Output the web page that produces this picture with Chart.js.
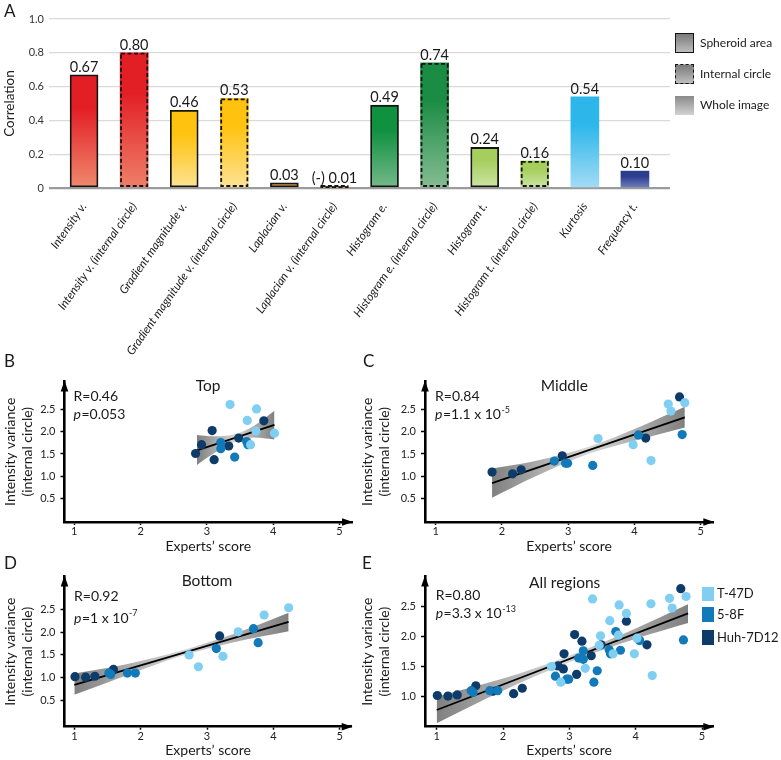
<!DOCTYPE html>
<html>
<head>
<meta charset="utf-8">
<script src="https://cdn.jsdelivr.net/npm/chart.js@4.4.0/dist/chart.umd.min.js"></script>
<style>
body { margin:0; background:#fff; width:781px; height:760px; position:relative; overflow:hidden; font-family:Lato, sans-serif; color:#1a1a1a; }
canvas { position:absolute; }
.letter { position:absolute; font-size:17px; line-height:17px; }
.leg { position:absolute; white-space:nowrap; line-height:1; }
.box { position:absolute; box-sizing:border-box; }
</style>
</head>
<body>
<canvas id="cA" width="781" height="368" style="left:0;top:0"></canvas>
<canvas id="cB" width="360" height="190" style="left:0;top:370px"></canvas>
<canvas id="cC" width="424" height="190" style="left:357px;top:370px"></canvas>
<canvas id="cD" width="360" height="195" style="left:0;top:565px"></canvas>
<canvas id="cE" width="424" height="195" style="left:357px;top:565px"></canvas>

<div class="letter" style="left:4px;top:2px">A</div>
<div class="letter" style="left:4px;top:352px">B</div>
<div class="letter" style="left:363px;top:352px">C</div>
<div class="letter" style="left:4px;top:554px">D</div>
<div class="letter" style="left:362px;top:554px">E</div>

<!-- legend of panel A -->
<div class="box" style="left:675px;top:33px;width:19px;height:20px;border:1.8px solid #141414;background:linear-gradient(#7a7a7a,#bdbdbd)"></div>
<div class="leg" style="left:700px;top:37px;font-size:12px">Spheroid area</div>
<div class="box" style="left:675px;top:64px;width:19px;height:20px;border:1.8px dashed #141414;background:linear-gradient(#7a7a7a,#bdbdbd)"></div>
<div class="leg" style="left:700px;top:68px;font-size:12px">Internal circle</div>
<div class="box" style="left:675px;top:96px;width:19px;height:19px;background:linear-gradient(#8a8a8a,#d2d2d2)"></div>
<div class="leg" style="left:700px;top:99px;font-size:12px">Whole image</div>

<!-- legend of panel E -->
<div class="box" style="left:702px;top:587px;width:12px;height:14px;background:#80cff2"></div>
<div class="leg" style="left:717px;top:587px;font-size:13px">T-47D</div>
<div class="box" style="left:702px;top:607px;width:12px;height:15px;background:#127ab9"></div>
<div class="leg" style="left:717px;top:608px;font-size:13px">5-8F</div>
<div class="box" style="left:702px;top:630px;width:12px;height:15px;background:#0d3c6b"></div>
<div class="leg" style="left:717px;top:631px;font-size:13px">Huh-7D12</div>

<script>
Chart.defaults.font.family = "Lato";
Chart.defaults.color = "#1a1a1a";

// ---- panel A data ----
const corrLabels = ["Intensity v.", "Intensity v. (internal circle)", "Gradient magnitude v.",
  "Gradient magnitude v. (internal circle)", "Laplacian v.", "Laplacian v. (internal circle)",
  "Histogram e.", "Histogram e. (internal circle)", "Histogram t.", "Histogram t. (internal circle)",
  "Kurtosis", "Frequency t."];
const corrValues = [0.67, 0.80, 0.46, 0.53, 0.03, 0.01, 0.49, 0.74, 0.24, 0.16, 0.54, 0.10];
const corrText   = ["0.67", "0.80", "0.46", "0.53", "0.03", "(-) 0.01", "0.49", "0.74", "0.24", "0.16", "0.54", "0.10"];
const corrRegion = ["spheroid", "internal", "spheroid", "internal", "spheroid", "internal",
  "spheroid", "internal", "spheroid", "internal", "whole", "whole"];
const corrTicks  = [0, 0.2, 0.4, 0.6, 0.8, 1.0];
const barTop    = ["#e31f26", "#e31f26", "#ffc20e", "#ffc20e", "#f39a2e", "#f39a2e",
  "#0f9140", "#1b8c44", "#a5ce5c", "#a5ce5c", "#2cb6ea", "#2b3d8c"];
const barBottom = ["#f08a6e", "#ee8069", "#fde395", "#fde395", "#f5b25c", "#f5b25c",
  "#76b98a", "#86bd94", "#cde5a6", "#cde5a6", "#a3dcf6", "#7080bf"];

// ---- panels B-E data (experts' score vs intensity variance) ----
const xTicks = [1, 2, 3, 4, 5];
const yTicks = [0.5, 1.0, 1.5, 2.0, 2.5];
const yTicksAll = [1.0, 1.5, 2.0, 2.5];

const topT47dX = [3.35, 3.61, 3.75, 3.74, 3.66, 4.02];
const topT47dY = [2.62, 2.26, 2.52, 2.02, 1.71, 1.97];
const top58fX  = [3.21, 3.21, 3.42, 3.60, 3.62];
const top58fY  = [1.76, 1.62, 1.43, 1.78, 1.71];
const topHuhX  = [2.83, 2.92, 3.08, 3.11, 3.33, 3.48, 3.86];
const topHuhY  = [1.51, 1.71, 2.03, 1.37, 1.68, 1.86, 2.25];
const topFitX  = [2.85, 4.02];
const topFitY  = [1.58, 2.16];
const topBandX  = [2.85, 3.1, 3.4, 3.7, 4.02];
const topBandHi = [1.93, 1.90, 1.94, 2.13, 2.48];
const topBandLo = [1.25, 1.51, 1.76, 1.87, 1.83];

const midT47dX = [3.45, 3.98, 4.25, 4.51, 4.55, 4.76];
const midT47dY = [1.85, 1.71, 1.35, 2.63, 2.47, 2.66];
const mid58fX  = [2.79, 2.96, 2.99, 3.37, 4.06, 4.72];
const mid58fY  = [1.34, 1.29, 1.29, 1.24, 1.93, 1.94];
const midHuhX  = [1.85, 2.16, 2.29, 2.91, 4.17, 4.68];
const midHuhY  = [1.09, 1.05, 1.14, 1.46, 1.86, 2.79];
const midFitX  = [1.85, 4.76];
const midFitY  = [0.84, 2.33];
const midBandX  = [1.85, 2.5, 3.3, 4.1, 4.76];
const midBandHi = [1.17, 1.34, 1.66, 2.13, 2.57];
const midBandLo = [0.51, 0.99, 1.50, 1.84, 2.10];

const botT47dX = [2.73, 2.87, 3.24, 3.47, 3.86, 4.23];
const botT47dY = [1.50, 1.24, 1.47, 2.01, 2.38, 2.54];
const bot58fX  = [1.52, 1.55, 1.80, 1.92, 3.14, 3.70, 3.77];
const bot58fY  = [1.10, 1.07, 1.10, 1.10, 1.64, 2.08, 1.77];
const botHuhX  = [1.01, 1.17, 1.31, 1.59, 3.19];
const botHuhY  = [1.02, 1.01, 1.03, 1.18, 1.92];
const botFitX  = [1.0, 4.23];
const botFitY  = [0.84, 2.23];
const botBandX  = [1.0, 1.8, 2.6, 3.4, 4.23];
const botBandHi = [1.09, 1.30, 1.59, 1.96, 2.43];
const botBandLo = [0.62, 1.06, 1.47, 1.78, 2.02];

const allFitX  = [1.0, 4.79];
const allFitY  = [0.78, 2.38];
const allBandX  = [1.0, 2.0, 3.0, 4.0, 4.79];
const allBandHi = [1.00, 1.30, 1.68, 2.13, 2.53];
const allBandLo = [0.56, 1.10, 1.57, 1.96, 2.22];

const colT47d = "#80cff2", col58f = "#127ab9", colHuh = "#0d3c6b";

// ---------- panel A ----------
function barFill(c) {
  const chart = c.chart;
  const i = c.dataIndex;
  if (!chart.chartArea || i === undefined) return "#999";
  const ys = chart.scales.y;
  const y0 = ys.getPixelForValue(corrValues[i]);
  const y1 = ys.getPixelForValue(0);
  const g = chart.ctx.createLinearGradient(0, y0, 0, y1 + 0.01);
  g.addColorStop(0, barTop[i]);
  g.addColorStop(0.3, barTop[i]);
  g.addColorStop(1, barBottom[i]);
  return g;
}

const barExtras = {
  id: "barExtras",
  afterDatasetsDraw(chart) {
    const ctx = chart.ctx;
    chart.getDatasetMeta(0).data.forEach((bar, i) => {
      const p = bar.getProps(["x", "y", "base", "width"], true);
      ctx.save();
      if (corrRegion[i] === "internal") {
        ctx.setLineDash([4, 2.5]);
        ctx.lineWidth = 1.8;
        ctx.strokeStyle = "#141414";
        ctx.strokeRect(p.x - p.width / 2 + 0.9, p.y + 0.9, p.width - 1.8, p.base - p.y - 1.8);
      }
      ctx.setLineDash([]);
      ctx.fillStyle = "#1a1a1a";
      ctx.font = "14.5px Lato";
      ctx.textAlign = "center";
      ctx.textBaseline = "alphabetic";
      ctx.fillText(corrText[i], p.x, p.y - 3);
      ctx.restore();
    });
  }
};

new Chart(document.getElementById("cA"), {
  type: "bar",
  data: {
    datasets: [{
      data: corrValues.map((v, i) => ({ x: i, y: v })),
      backgroundColor: barFill,
      borderColor: "#141414",
      borderWidth: corrRegion.map(r => r === "spheroid" ? 1.8 : 0),
      borderSkipped: false,
      barThickness: 28
    }]
  },
  options: {
    responsive: false,
    animation: false,
    layout: { padding: { top: 19, right: 111, left: 0, bottom: 0 } },
    plugins: { legend: { display: false }, tooltip: { enabled: false } },
    scales: {
      x: {
        type: "linear", min: -0.7, max: 11.7, offset: false,
        grid: { display: false }, border: { display: false },
        afterBuildTicks: s => { s.ticks = corrLabels.map((l, i) => ({ value: i })); },
        ticks: {
          autoSkip: false, minRotation: 55, maxRotation: 55, padding: 4, color: "#222",
          font: { size: 11.8, style: "italic" },
          callback: v => corrLabels[v]
        },
        afterFit: s => { s.height = 368 - 188; }
      },
      y: {
        min: 0, max: 1,
        afterBuildTicks: s => { s.ticks = corrTicks.map(v => ({ value: v })); },
        grid: {
          drawTicks: false,
          color: c => c.tick.value === 0 ? "#9b9b9b" : "#dadada",
          lineWidth: c => c.tick.value === 0 ? 2.2 : 1.2
        },
        border: { display: false },
        ticks: { padding: 5, color: "#333", font: { size: 11 }, callback: v => v === 0 ? "0" : v.toFixed(1) },
        title: { display: true, text: "Correlation", font: { size: 13.5 }, color: "#222", padding: { top: 2, bottom: 0 } },
        afterFit: s => { s.width = 49; }
      }
    }
  },
  plugins: [barExtras]
});

// ---------- panels B-E ----------
const pts = (xs, ys) => xs.map((x, i) => ({ x: x, y: ys[i] }));

const panelExtras = {
  id: "panelExtras",
  afterDraw(chart, args, o) {
    const ctx = chart.ctx, a = chart.chartArea;
    ctx.save();
    ctx.fillStyle = "#000";
    ctx.beginPath();
    ctx.moveTo(a.left, a.top - 1);
    ctx.lineTo(a.left - 3.8, a.top + 10);
    ctx.lineTo(a.left + 3.8, a.top + 10);
    ctx.closePath(); ctx.fill();
    ctx.beginPath();
    ctx.moveTo(a.right + 1, a.bottom);
    ctx.lineTo(a.right - 10, a.bottom - 3.8);
    ctx.lineTo(a.right - 10, a.bottom + 3.8);
    ctx.closePath(); ctx.fill();

    ctx.fillStyle = "#1a1a1a";
    ctx.textBaseline = "middle";
    ctx.textAlign = "center";
    ctx.font = "15.5px Lato";
    ctx.fillText(o.title, chart.scales.x.getPixelForValue(o.titleX), a.top + o.titleDy);

    ctx.textAlign = "left";
    const lx = a.left + o.noteDx;
    ctx.font = "14px Lato";
    ctx.fillText(o.r, lx, a.top + o.rDy);
    ctx.font = "italic 14px Lato";
    ctx.fillText("p", lx, a.top + o.pDy);
    let px = lx + ctx.measureText("p").width + 0.5;
    ctx.font = "14px Lato";
    ctx.fillText(o.p, px, a.top + o.pDy);
    if (o.exp) {
      px += ctx.measureText(o.p).width + 0.5;
      ctx.font = "9px Lato";
      ctx.fillText(o.exp, px, a.top + o.pDy - 5);
    }
    ctx.restore();
  }
};

function bandFill(bandX) {
  return c => {
    const chart = c.chart;
    if (!chart.chartArea) return "#bbb";
    const xs = chart.scales.x;
    const g = chart.ctx.createLinearGradient(xs.getPixelForValue(bandX[0]), 0,
      xs.getPixelForValue(bandX[bandX.length - 1]), 0);
    g.addColorStop(0, "#808080");
    g.addColorStop(0.5, "#d8d8d8");
    g.addColorStop(1, "#808080");
    return g;
  };
}

function scatterPanel(id, p) {
  const dot = (data, color) => ({
    data: data, showLine: false, pointRadius: 4.6, pointHoverRadius: 4.6,
    pointBackgroundColor: color, pointBorderWidth: 0, order: 0
  });
  new Chart(document.getElementById(id), {
    type: "line",
    data: {
      datasets: [
        dot(p.t47d, colT47d),
        dot(p.f58, col58f),
        dot(p.huh, colHuh),
        { data: pts(p.fitX, p.fitY), borderColor: "#000", borderWidth: 1.8, pointRadius: 0, order: 1 },
        { data: pts(p.bandX, p.bandHi), borderColor: "rgba(0,0,0,0)", borderWidth: 0, pointRadius: 0,
          fill: "+1", backgroundColor: bandFill(p.bandX), cubicInterpolationMode: "monotone", order: 2 },
        { data: pts(p.bandX, p.bandLo), borderColor: "rgba(0,0,0,0)", borderWidth: 0, pointRadius: 0,
          fill: false, cubicInterpolationMode: "monotone", order: 3 }
      ]
    },
    options: {
      responsive: false,
      animation: false,
      layout: { padding: { top: p.padTop, right: p.padRight, left: 0, bottom: 0 } },
      plugins: {
        legend: { display: false }, tooltip: { enabled: false },
        panelExtras: p.notes
      },
      scales: {
        x: {
          type: "linear", min: p.xMin, max: p.xMax,
          afterBuildTicks: s => { s.ticks = xTicks.map(v => ({ value: v })); },
          grid: { display: true, drawOnChartArea: false, drawTicks: true, tickLength: 3, tickWidth: 1.5, tickColor: "#000" },
          border: { display: true, color: "#000", width: 2.6 },
          ticks: { padding: 0, maxRotation: 0, color: "#222", font: { size: 11 } },
          title: { display: true, text: "Experts’ score", font: { size: 14 }, color: "#1a1a1a", padding: { top: 0, bottom: p.xTitlePad } },
          afterFit: s => { s.height = p.xAxisH; }
        },
        y: {
          min: p.yMin, max: p.yMax,
          afterBuildTicks: s => { s.ticks = p.yTicks.map(v => ({ value: v })); },
          grid: { display: true, drawOnChartArea: false, drawTicks: true, tickLength: 4, tickWidth: 1.5, tickColor: "#000" },
          border: { display: true, color: "#000", width: 2.6 },
          ticks: { padding: 5, color: "#222", font: { size: 11 }, callback: v => v.toFixed(1) },
          title: { display: true, text: ["Intensity variance", "(internal circle)"], font: { size: 14 }, color: "#1a1a1a", padding: { top: 2.3, bottom: 0 } },
          afterFit: s => { s.width = p.yAxisW; }
        }
      }
    },
    plugins: [panelExtras]
  });
}

scatterPanel("cB", {
  t47d: pts(topT47dX, topT47dY), f58: pts(top58fX, top58fY), huh: pts(topHuhX, topHuhY),
  fitX: topFitX, fitY: topFitY, bandX: topBandX, bandHi: topBandHi, bandLo: topBandLo,
  xMin: 0.852, xMax: 5.19, yMin: -0.04, yMax: 3.138, yTicks: yTicks,
  padTop: 9, padRight: 8, yAxisW: 64.5, xAxisH: 38, xTitlePad: 5.6,
  notes: { title: "Top", titleX: 3.02, titleDy: 4, noteDx: 9, rDy: 15, pDy: 33, r: "R=0.46", p: "=0.053", exp: "" }
});

scatterPanel("cC", {
  t47d: pts(midT47dX, midT47dY), f58: pts(mid58fX, mid58fY), huh: pts(midHuhX, midHuhY),
  fitX: midFitX, fitY: midFitY, bandX: midBandX, bandHi: midBandHi, bandLo: midBandLo,
  xMin: 0.838, xMax: 5.19, yMin: -0.04, yMax: 3.138, yTicks: yTicks,
  padTop: 9, padRight: 424 - 356.3, yAxisW: 68, xAxisH: 38, xTitlePad: 5.6,
  notes: { title: "Middle", titleX: 2.94, titleDy: 4, noteDx: 10, rDy: 15, pDy: 33, r: "R=0.84", p: "=1.1 x 10", exp: "-5" }
});

scatterPanel("cD", {
  t47d: pts(botT47dX, botT47dY), f58: pts(bot58fX, bot58fY), huh: pts(botHuhX, botHuhY),
  fitX: botFitX, fitY: botFitY, bandX: botBandX, bandHi: botBandHi, bandLo: botBandLo,
  xMin: 0.852, xMax: 5.18, yMin: -0.082, yMax: 3.227, yTicks: yTicks,
  padTop: 10, padRight: 8.3, yAxisW: 64.5, xAxisH: 33.3, xTitlePad: 1.6,
  notes: { title: "Bottom", titleX: 3.0, titleDy: 4, noteDx: 9.5, rDy: 20, pDy: 41.5, r: "R=0.92", p: "=1 x 10", exp: "-7" }
});

scatterPanel("cE", {
  t47d: pts(topT47dX.concat(midT47dX, botT47dX), topT47dY.concat(midT47dY, botT47dY)),
  f58: pts(top58fX.concat(mid58fX, bot58fX), top58fY.concat(mid58fY, bot58fY)),
  huh: pts(topHuhX.concat(midHuhX, botHuhX), topHuhY.concat(midHuhY, botHuhY)),
  fitX: allFitX, fitY: allFitY, bandX: allBandX, bandHi: allBandHi, bandLo: allBandLo,
  xMin: 0.824, xMax: 5.17, yMin: 0.503, yMax: 2.99, yTicks: yTicksAll,
  padTop: 8, padRight: 424 - 356.3, yAxisW: 68, xAxisH: 33.3, xTitlePad: 1.6,
  notes: { title: "All regions", titleX: 2.93, titleDy: 6, noteDx: 10.7, rDy: 18.7, pDy: 37, r: "R=0.80", p: "=3.3 x 10", exp: "-13" }
});
</script>
</body>
</html>
